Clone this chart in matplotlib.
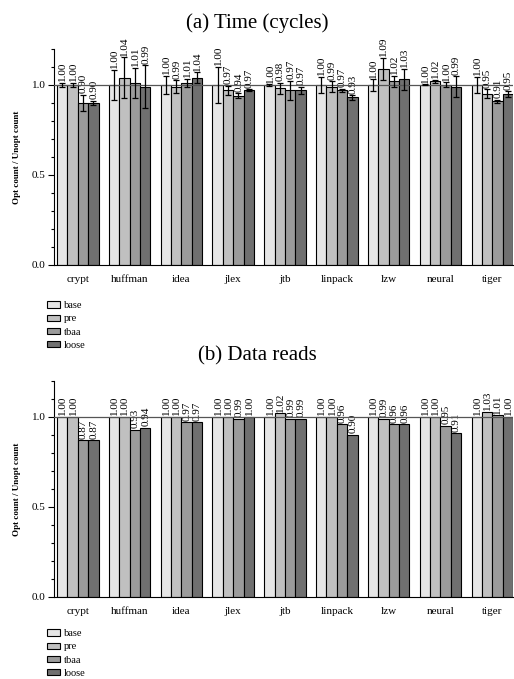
import numpy as np
import matplotlib.pyplot as plt
from matplotlib.ticker import MultipleLocator

plt.rcParams["font.family"] = ["Liberation Serif", "DejaVu Serif"]

benchmarks = ["crypt", "huffman", "idea", "jlex", "jtb", "linpack", "lzw", "neural", "tiger"]
configs = ["base", "pre", "tbaa", "loose"]
colors = ["#e6e6e6", "#c0c0c0", "#9b9b9b", "#707070"]

# (a) Time (cycles)
time_base = [1.00, 1.00, 1.00, 1.00, 1.00, 1.00, 1.00, 1.00, 1.00]
time_pre = [1.00, 1.04, 0.99, 0.97, 0.98, 0.99, 1.09, 1.02, 0.95]
time_tbaa = [0.90, 1.01, 1.01, 0.94, 0.97, 0.97, 1.02, 1.00, 0.91]
time_loose = [0.90, 0.99, 1.04, 0.97, 0.97, 0.93, 1.03, 0.99, 0.95]

time_base_err = [0.012, 0.085, 0.05, 0.10, 0.005, 0.046, 0.032, 0.003, 0.045]
time_pre_err = [0.012, 0.115, 0.035, 0.025, 0.033, 0.03, 0.062, 0.008, 0.025]
time_tbaa_err = [0.045, 0.085, 0.024, 0.014, 0.053, 0.008, 0.032, 0.014, 0.008]
time_loose_err = [0.012, 0.12, 0.03, 0.005, 0.02, 0.012, 0.061, 0.058, 0.016]

# (b) Data reads
reads_base = [1.00, 1.00, 1.00, 1.00, 1.00, 1.00, 1.00, 1.00, 1.00]
reads_pre = [1.00, 1.00, 1.00, 1.00, 1.02, 1.00, 0.99, 1.00, 1.03]
reads_tbaa = [0.87, 0.93, 0.97, 0.99, 0.99, 0.96, 0.96, 0.95, 1.01]
reads_loose = [0.87, 0.94, 0.97, 1.00, 0.99, 0.90, 0.96, 0.91, 1.00]


def draw_panel(ax, series, errs, title, legend_y):
    x = np.arange(len(benchmarks))
    w = 0.2
    for i, (vals, c) in enumerate(zip(series, colors)):
        pos = x + (i - 1.5) * w
        err = errs[i] if errs is not None else None
        ax.bar(pos, vals, w, color=c, edgecolor="black", linewidth=0.8,
               label=configs[i], zorder=2)
        if err is not None:
            ax.errorbar(pos, vals, yerr=err, fmt="none", ecolor="black",
                        elinewidth=0.9, capsize=2.5, capthick=0.9, zorder=4)
        for j, v in enumerate(vals):
            top = v + (err[j] if err is not None else 0)
            ax.text(pos[j] + 0.01, top + 0.008, "%.2f" % v, rotation=90,
                    ha="center", va="bottom", fontsize=8)
    ax.axhline(1.0, color="#555555", linewidth=0.9, zorder=3)
    ax.set_xlim(-0.46, 8.41)
    ax.set_ylim(0, 1.2)
    ax.set_xticks(x)
    ax.set_xticklabels(benchmarks, fontsize=8)
    ax.tick_params(axis="x", length=0, pad=7)
    ax.yaxis.set_major_locator(MultipleLocator(0.5))
    ax.yaxis.set_minor_locator(MultipleLocator(0.1))
    ax.set_yticks([0.0, 0.5, 1.0])
    ax.set_yticklabels(["0.0", "0.5", "1.0"], fontsize=8)
    ax.tick_params(axis="y", which="major", length=4, width=0.8, pad=2)
    ax.tick_params(axis="y", which="minor", length=2.5, width=0.8)
    ax.spines["top"].set_visible(False)
    ax.spines["right"].set_visible(False)
    ax.set_ylabel("Opt count / Unopt count", fontsize=6.5, fontweight="bold", labelpad=8)
    ax.set_title(title, fontsize=15, pad=15, x=0.442)
    ax.legend(loc="upper left", bbox_to_anchor=(0.082, legend_y),
              bbox_transform=plt.gcf().transFigure, frameon=False, fontsize=7.5,
              handlelength=1.2, handleheight=0.55, handletextpad=0.4,
              labelspacing=0.4, borderpad=0)


fig = plt.figure(figsize=(5.14, 6.79), dpi=100)
ax1 = fig.add_axes([0.105, 0.610, 0.894, 0.318])
ax2 = fig.add_axes([0.105, 0.121, 0.894, 0.318])

draw_panel(ax1, [time_base, time_pre, time_tbaa, time_loose],
           [time_base_err, time_pre_err, time_tbaa_err, time_loose_err],
           "(a) Time (cycles)", 1 - 296 / 679)
draw_panel(ax2, [reads_base, reads_pre, reads_tbaa, reads_loose], None,
           "(b) Data reads", 1 - 624 / 679)

fig.savefig("out.png", dpi=100)
